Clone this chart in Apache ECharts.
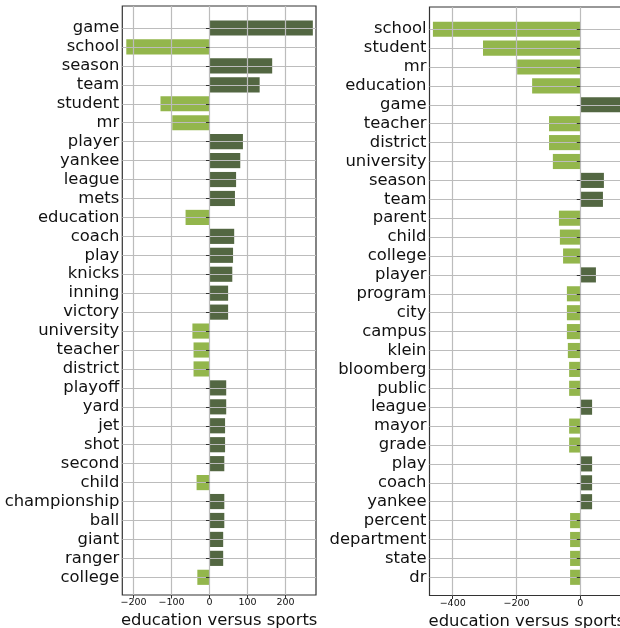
<!DOCTYPE html>
<html>
<head>
<meta charset="utf-8">
<script src="https://cdn.jsdelivr.net/npm/echarts@6/dist/echarts.min.js"></script>
<style>
    html, body { margin: 0; padding: 0; background: #fff; overflow: hidden; }
    #chart { width: 620px; height: 628px; }
</style>
</head>
<body>
<div id="chart"></div>
<script>
    // left panel: words ranked by |score|
    const leftWords = ['game', 'school', 'season', 'team', 'student', 'mr', 'player', 'yankee', 'league', 'mets',
        'education', 'coach', 'play', 'knicks', 'inning', 'victory', 'university', 'teacher', 'district', 'playoff',
        'yard', 'jet', 'shot', 'second', 'child', 'championship', 'ball', 'giant', 'ranger', 'college']
    const leftScores = [272, -219, 165, 132, -129, -98, 88, 81, 70, 67,
        -63, 65, 62, 60, 49, 49, -45, -42, -42, 44,
        44, 41, 41, 39, -34, 39, 39, 36, 36, -32]
    const leftTicks = [-200, -100, 0, 100, 200]

    // right panel
    const rightWords = ['school', 'student', 'mr', 'education', 'game', 'teacher', 'district', 'university', 'season', 'team',
        'parent', 'child', 'college', 'player', 'program', 'city', 'campus', 'klein', 'bloomberg', 'public',
        'league', 'mayor', 'grade', 'play', 'coach', 'yankee', 'percent', 'department', 'state', 'dr']
    const rightScores = [-462, -305, -198, -151, 160, -98, -98, -86, 74, 71,
        -67, -64, -54, 49, -42, -42, -42, -39, -35, -35,
        37, -35, -35, 37, 37, 37, -32, -32, -32, -32]
    const rightTicks = [-400, -200, 0]

    const dark = '#536742'
    const light = '#93b64c'
    const gridColor = '#bcbcbc'
    const spineColor = '#333'
    const textColor = '#111'
    const font = 'DejaVu Sans'

    let myChart = echarts.init(document.getElementById('chart'), null, {renderer: 'canvas'})

    const minus = v => String(v).replace('-', '\u2212')

    function frameX(gridIndex, min, max, ticks) {
        return {
            type: 'value', gridIndex: gridIndex, min: min, max: max, z: 5,
            axisLine: {show: false},
            axisTick: {show: true, length: 3.5, customValues: ticks, lineStyle: {color: spineColor}},
            axisLabel: {customValues: ticks, formatter: minus, fontFamily: font, fontSize: 9.5, color: textColor, margin: 3},
            splitLine: {show: true, lineStyle: {color: gridColor, width: 1.2}},
            name: 'education versus sports', nameLocation: 'middle', nameGap: 15,
            nameTextStyle: {fontFamily: font, fontSize: 16.4, color: textColor}
        }
    }
    function barsX(gridIndex, min, max) {
        return {type: 'value', gridIndex: gridIndex, min: min, max: max, show: false}
    }
    function frameY(gridIndex) {
        return {type: 'value', gridIndex: gridIndex, show: false}
    }
    function barsY(gridIndex, words) {
        return {
            type: 'category', gridIndex: gridIndex, data: words, inverse: true, boundaryGap: false, z: 5,
            axisLine: {show: false},
            axisTick: {show: true, length: 3.5, interval: 0, lineStyle: {color: spineColor}},
            axisLabel: {interval: 0, fontFamily: font, fontSize: 16.4, color: textColor, margin: 3},
            splitLine: {show: true, interval: 0, lineStyle: {color: gridColor, width: 1.2}}
        }
    }
    function bars(axisIndex, values) {
        return {
            type: 'bar', xAxisIndex: axisIndex, yAxisIndex: axisIndex, data: values,
            barWidth: '80%', clip: false, silent: true,
            itemStyle: {color: p => (p.value < 0 ? light : dark)}
        }
    }

    let option = {
        animation: false,
        backgroundColor: '#fff',
        grid: [
            {left: 122.3, top: 6, width: 193.7, height: 589, show: true, borderColor: spineColor, borderWidth: 1.2, outerBoundsMode: 'none', containLabel: false},
            {left: 122.3, top: 28, width: 193.7, height: 549.3, outerBoundsMode: 'none', containLabel: false},
            {left: 429.5, top: 7, width: 194.5, height: 588.5, show: true, borderColor: spineColor, borderWidth: 1.2, outerBoundsMode: 'none', containLabel: false},
            {left: 429.5, top: 29.2, width: 194.5, height: 548.1, outerBoundsMode: 'none', containLabel: false}
        ],
        xAxis: [
            frameX(0, -229.5, 280.3, leftTicks),
            barsX(1, -229.5, 280.3),
            frameX(2, -472.7, 137, rightTicks),
            barsX(3, -472.7, 137)
        ],
        yAxis: [
            frameY(0),
            barsY(1, leftWords),
            frameY(2),
            barsY(3, rightWords)
        ],
        series: [
            bars(1, leftScores),
            bars(3, rightScores)
        ]
    }

    myChart.setOption(option)
</script>
</body>
</html>
